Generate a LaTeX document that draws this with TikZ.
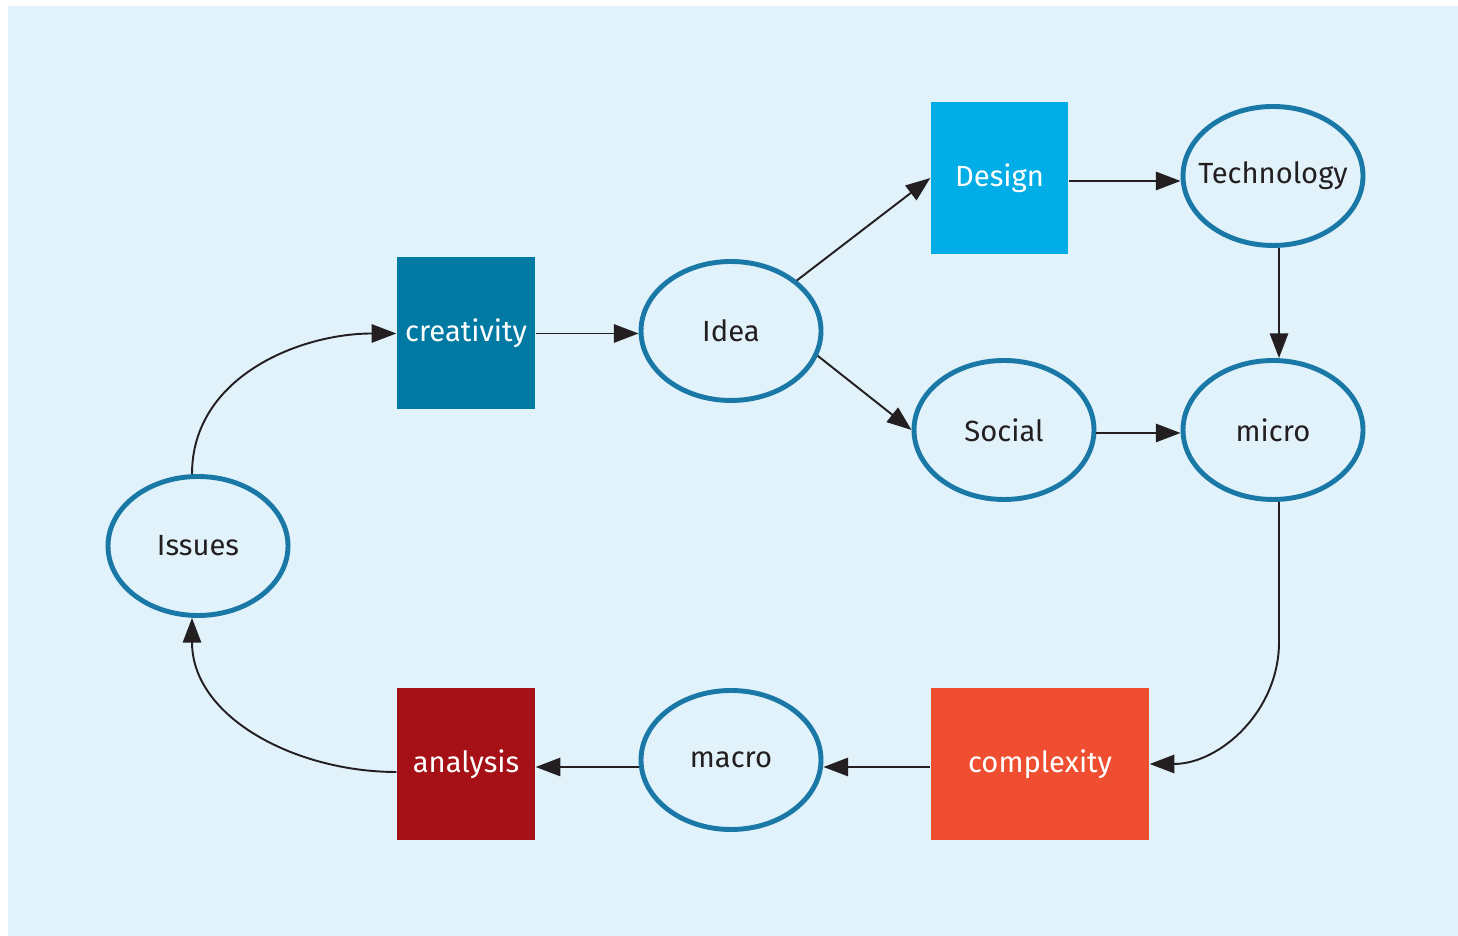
\documentclass[tikz,border=0pt]{standalone}
\usepackage{fontspec}
\setmainfont{Fira Sans}
\usepackage{tikz}
\usetikzlibrary{shapes.geometric}
\usetikzlibrary{arrows.meta}
\definecolor{bgblue}{HTML}{E1F2FB}
\definecolor{ringblue}{HTML}{1A78A6}
\definecolor{creablue}{HTML}{0079A3}
\definecolor{desblue}{HTML}{00ADE6}
\definecolor{anared}{HTML}{A51116}
\definecolor{comporange}{HTML}{F04E30}
\definecolor{inkgray}{HTML}{231F20}

\begin{document}
\begin{tikzpicture}[
  elli/.style={ellipse,draw=ringblue,line width=1.4pt,inner sep=0pt,inner xsep=-8pt,minimum width=1.80cm,minimum height=1.39cm,text=inkgray,font=\fontsize{8.3}{10}\selectfont},
  boxnode/.style={rectangle,inner sep=0pt,minimum height=1.52cm,text=white,font=\fontsize{8.3}{10}\selectfont},
  arr/.style={line width=0.55pt,draw=inkgray,-{Triangle[length=7pt,width=5.2pt]}}]
\useasboundingbox (0,0) rectangle (14.58,9.36);
\fill[bgblue] (0.08,0) rectangle (14.58,9.30);

\node[elli] (issues) at (1.98,3.90) {Issues};
\node[boxnode,fill=creablue,minimum width=1.38cm] (creativity) at (4.66,6.025) {creativity};
\node[elli] (idea) at (7.31,6.05) {Idea};
\node[boxnode,fill=desblue,minimum width=1.37cm] (design) at (9.995,7.58) {Design};
\node[elli] (tech) at (12.73,7.60) {Technology};
\node[elli] (social) at (10.04,5.06) {Social};
\node[elli] (micro) at (12.73,5.06) {micro};
\node[boxnode,fill=comporange,minimum width=2.18cm] (complexity) at (10.40,1.72) {complexity};
\node[elli] (macro) at (7.31,1.76) {macro};
\node[boxnode,fill=anared,minimum width=1.38cm] (analysis) at (4.66,1.72) {analysis};

\draw[arr] ([xshift=-.06cm]issues.north) to[out=90,in=180] (creativity.west);
\draw[arr] (creativity.east) -- (idea.west |- creativity.east);
\draw[arr] (idea) -- (design.west);
\draw[arr] (idea.-16) -- (social.west);
\draw[arr] ([yshift=-.03cm]design.east) -- ([yshift=-.03cm]tech.west |- design.east);
\draw[arr] ([xshift=.06cm]tech.south) -- ([xshift=.06cm]micro.north);
\draw[arr] ([yshift=-.03cm]social.east) -- ([yshift=-.03cm]micro.west);
\draw[arr] ([xshift=.06cm]micro.south) -- ++(0,-1.4) to[out=-90,in=0] (complexity.east);
\draw[arr] ([yshift=-.03cm]complexity.west) -- ([yshift=-.03cm]macro.east |- complexity.west);
\draw[arr] ([yshift=-.03cm]macro.west |- complexity.west) -- ([yshift=-.03cm]analysis.east |- complexity.west);
\draw[arr] ([yshift=-.08cm]analysis.west) to[out=180,in=-90] ([xshift=-.06cm]issues.south);

\end{tikzpicture}
\end{document}
